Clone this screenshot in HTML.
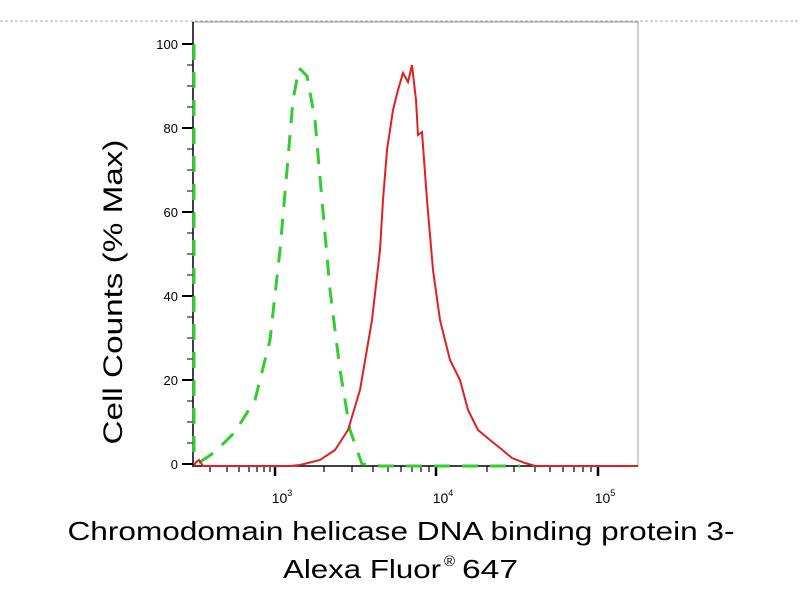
<!DOCTYPE html>
<html><head><style>
body{margin:0;background:#fff;width:800px;height:600px;overflow:hidden}
svg{display:block}
</style></head><body>
<svg width="800" height="600" xmlns="http://www.w3.org/2000/svg" font-family="Liberation Sans, Arial, sans-serif">
<line x1="0" y1="21" x2="800" y2="21" stroke="#aaa" stroke-width="1" stroke-dasharray="3,2"/>
<rect x="193" y="22" width="445" height="444" fill="none" stroke="#999" stroke-width="1"/>
<line x1="193" y1="22" x2="193" y2="467" stroke="#000" stroke-width="1.5"/>
<line x1="193" y1="466" x2="638" y2="466" stroke="#000" stroke-width="1.5"/>
<g stroke="#000" stroke-width="2">
<line x1="182" y1="44" x2="193" y2="44"/><line x1="182" y1="128" x2="193" y2="128"/>
<line x1="182" y1="212" x2="193" y2="212"/><line x1="182" y1="296" x2="193" y2="296"/>
<line x1="182" y1="380" x2="193" y2="380"/><line x1="182" y1="464" x2="193" y2="464"/>
</g>
<g stroke="#000" stroke-width="1">
<line x1="187" y1="65" x2="193" y2="65"/><line x1="187" y1="86" x2="193" y2="86"/><line x1="187" y1="107" x2="193" y2="107"/>
<line x1="187" y1="149" x2="193" y2="149"/><line x1="187" y1="170" x2="193" y2="170"/><line x1="187" y1="191" x2="193" y2="191"/>
<line x1="187" y1="233" x2="193" y2="233"/><line x1="187" y1="254" x2="193" y2="254"/><line x1="187" y1="275" x2="193" y2="275"/>
<line x1="187" y1="317" x2="193" y2="317"/><line x1="187" y1="338" x2="193" y2="338"/><line x1="187" y1="359" x2="193" y2="359"/>
<line x1="187" y1="401" x2="193" y2="401"/><line x1="187" y1="422" x2="193" y2="422"/><line x1="187" y1="443" x2="193" y2="443"/>
</g>
<g font-size="13" text-anchor="end" fill="#000">
<text x="178" y="49">100</text><text x="178" y="133">80</text><text x="178" y="217">60</text>
<text x="178" y="301">40</text><text x="178" y="385">20</text><text x="178" y="469">0</text>
</g>
<g stroke="#000" stroke-width="1.2">
<line x1="210" y1="466" x2="210" y2="472"/><line x1="227" y1="466" x2="227" y2="472"/><line x1="239" y1="466" x2="239" y2="472"/><line x1="249" y1="466" x2="249" y2="472"/><line x1="257" y1="466" x2="257" y2="472"/><line x1="264" y1="466" x2="264" y2="472"/><line x1="270" y1="466" x2="270" y2="472"/>
<line x1="324" y1="466" x2="324" y2="472"/><line x1="352" y1="466" x2="352" y2="472"/><line x1="373" y1="466" x2="373" y2="472"/><line x1="388" y1="466" x2="388" y2="472"/><line x1="401" y1="466" x2="401" y2="472"/><line x1="412" y1="466" x2="412" y2="472"/><line x1="421" y1="466" x2="421" y2="472"/><line x1="429" y1="466" x2="429" y2="472"/>
<line x1="487" y1="466" x2="487" y2="472"/><line x1="514" y1="466" x2="514" y2="472"/><line x1="535" y1="466" x2="535" y2="472"/><line x1="550" y1="466" x2="550" y2="472"/><line x1="563" y1="466" x2="563" y2="472"/><line x1="574" y1="466" x2="574" y2="472"/><line x1="583" y1="466" x2="583" y2="472"/><line x1="591" y1="466" x2="591" y2="472"/>
</g>
<g stroke="#000" stroke-width="2.5">
<line x1="275" y1="466" x2="275" y2="476"/><line x1="436" y1="466" x2="436" y2="476"/><line x1="598" y1="466" x2="598" y2="476"/>
</g>
<g font-size="14" fill="#000" text-anchor="middle">
<text x="282" y="503">10<tspan font-size="9" dy="-7">3</tspan></text>
<text x="443" y="503">10<tspan font-size="9" dy="-7">4</tspan></text>
<text x="605" y="503">10<tspan font-size="9" dy="-7">5</tspan></text>
</g>
<polyline fill="none" stroke="#33cc33" stroke-width="3" stroke-dasharray="16,12"
points="194,44 194,455 200,462 215,452 235,432 255,400 270,340 280,250 287,170 293,100 299,68 307,76 315,120 322,200 330,290 340,370 350,430 362,464 380,466 520,466"/>
<polyline fill="none" stroke="#e02020" stroke-width="2"
points="194,466 196,462 199,460 203,466 290,466 300,465 320,460 335,450 348,430 360,390 372,320 380,250 383,200 387,150 393,110 398,90 403,73 408,82 412,65 416,100 418,135 422,132 427,200 433,270 440,320 450,360 460,380 468,410 478,430 490,440 500,448 512,458 525,463 535,466 638,466"/>
<text transform="translate(122,292) rotate(-90)" font-size="27" text-anchor="middle" fill="#000" textLength="305" lengthAdjust="spacingAndGlyphs">Cell Counts (% Max)</text>
<text x="401" y="540" font-size="26" text-anchor="middle" fill="#000" textLength="667" lengthAdjust="spacingAndGlyphs">Chromodomain helicase DNA binding protein 3-</text>
<text x="283" y="578" font-size="26" fill="#000" textLength="158" lengthAdjust="spacingAndGlyphs">Alexa Fluor</text>
<text x="444" y="566" font-size="15" fill="#000">®</text>
<text x="462" y="578" font-size="26" fill="#000" textLength="56" lengthAdjust="spacingAndGlyphs">647</text>
</svg>
</body></html>
